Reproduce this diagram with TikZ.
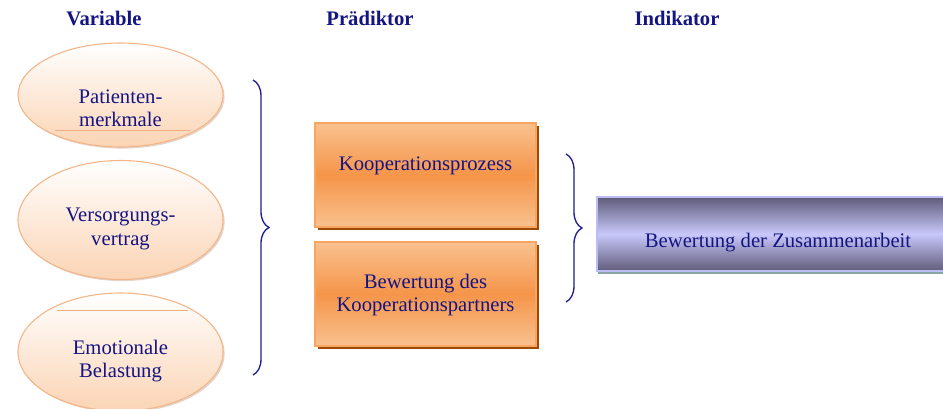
\documentclass[tikz,border=0pt]{standalone}
\usepackage{fontspec}
\setmainfont{Liberation Serif}
\usetikzlibrary{shapes.geometric,shadows,decorations.pathreplacing}

\definecolor{textblue}{RGB}{20,20,130}
\definecolor{bracecol}{RGB}{30,30,140}
\definecolor{ellline}{RGB}{244,180,135}
\definecolor{ellfill}{RGB}{251,212,180}
\definecolor{ellshadow}{RGB}{200,170,150}
\definecolor{boxline}{RGB}{248,165,96}
\definecolor{boxlight}{RGB}{249,193,143}
\definecolor{boxdark}{RGB}{245,149,74}
\definecolor{boxshadow}{RGB}{156,74,6}
\definecolor{indline}{RGB}{189,189,242}
\definecolor{inddark}{RGB}{95,91,122}
\definecolor{indlight}{RGB}{200,200,250}
\definecolor{indshadow}{RGB}{138,165,165}

\begin{document}
\begin{tikzpicture}[x=0.75pt,y=0.75pt,yscale=-1,xscale=1,
  txt/.style={text=textblue,font=\fontsize{15.5}{17.5}\selectfont,align=center,inner sep=0.75pt},
  head/.style={txt,font=\fontsize{15.5}{17.5}\selectfont\bfseries},
  varell/.style={ellipse,draw=ellline,line width=0.8pt,top color=white,bottom color=ellfill,minimum width=153.75pt,
    drop shadow={shadow xshift=1.2pt,shadow yshift=-1.2pt,fill=ellshadow,opacity=0.5}},
  predbox/.style={rectangle,draw=boxline,line width=1pt,top color=boxlight,bottom color=boxlight,middle color=boxdark,
    minimum width=165.75pt,minimum height=78pt,
    drop shadow={shadow xshift=2pt,shadow yshift=-2pt,fill=boxshadow,opacity=1}},
  indbox/.style={rectangle,draw=indline,line width=1pt,top color=inddark,bottom color=inddark,middle color=indlight,
    minimum width=274.5pt,minimum height=55.5pt,
    drop shadow={shadow xshift=1pt,shadow yshift=-2.2pt,fill=indshadow,opacity=1}},
  clbrace/.style={draw=bracecol,line width=1pt,decorate,decoration={brace,amplitude=12pt}}
]
\clip (0,0) rectangle (943,409);

% Headings
\node[head] (hvar) at (104,18) {Variable};
\node[head] (hpred) at (370,18) {Prädiktor};
\node[head] (hind) at (677,18) {Indikator};

% Variables
\node[varell,minimum height=78pt] (var1) at (120.5,95) {};
\node[varell,minimum height=89.25pt] (var2) at (120.5,220) {};
\node[varell,minimum height=88.5pt] (var3) at (120.5,352) {};
\draw[ellline!90!brown,line width=0.4pt] (55,130) -- (190,130);
\draw[ellline!90!brown,line width=0.4pt] (57,310) -- (188,310);

% Text Node
\node[txt] (var1txt) at (120.5,108) {Patienten-\\merkmale};
\node[txt] (var2txt) at (120.5,229) {Versorgungs-\\vertrag};
\node[txt] (var3txt) at (120.5,361) {Emotionale\\Belastung};

% Predictors
\node[predbox] (pred1) at (425.5,175) {};
\node[predbox] (pred2) at (425.5,294) {};
\node[txt] (pred1txt) at (425.5,166) {Kooperationsprozess};
\node[txt] (pred2txt) at (425.5,295) {Bewertung des\\Kooperationspartners};

% Indicator
\node[indbox] (ind) at (780,234) {};
\node[txt] (indtxt) at (778,243) {Bewertung der Zusammenarbeit};

% Braces
\coordinate (b1top) at (253,80);
\coordinate (b1bot) at (253,375);
\coordinate (b2top) at (566,154);
\coordinate (b2bot) at (566,302);
\draw[clbrace] (b1top) -- (b1bot);
\draw[clbrace] (b2top) -- (b2bot);

\end{tikzpicture}
\end{document}
